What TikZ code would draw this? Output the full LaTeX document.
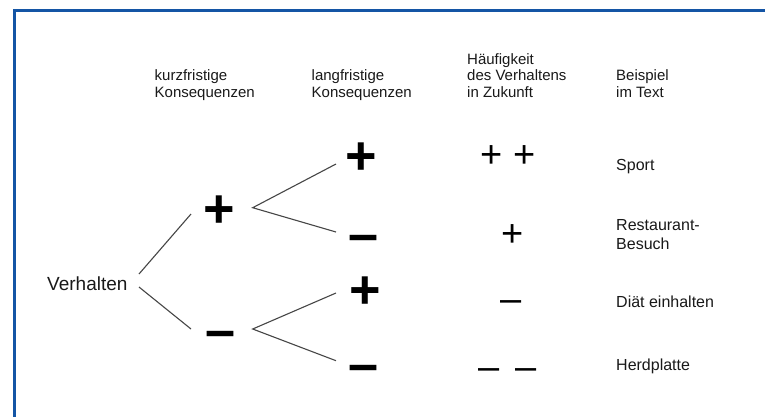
\documentclass[tikz,border=0pt]{standalone}
\usepackage{fontspec}
\setmainfont{Liberation Sans}
\definecolor{frameblue}{RGB}{20,85,165}
\definecolor{linegray}{RGB}{70,70,70}
\definecolor{txt}{RGB}{25,25,25}
\begin{document}
\begin{tikzpicture}[x=1pt,y=-1pt,
  hdr/.style={anchor=base west, inner sep=0pt, text=txt, align=left,
    font=\fontsize{15}{16.6}\selectfont},
  lbl/.style={anchor=base west, inner sep=0pt, text=txt, align=left,
    font=\fontsize{16}{18.3}\selectfont},
  bigsym/.style={anchor=base, inner sep=0pt, font=\fontsize{54}{54}\selectfont\bfseries},
  smallsym/.style={anchor=base, inner sep=0pt, font=\fontsize{38}{38}\selectfont},
  branch/.style={draw=linegray, line width=1.1pt}]
\useasboundingbox (0,0) rectangle (765,416);
\fill[white] (0,0) rectangle (765,416);
% frame
\draw[frameblue, line width=3pt, line join=miter] (14.3,418) -- (14.3,10.8) -- (767,10.8);

% headers (anchor at baseline of last line)
\node[hdr] (hk) at (154.5,97.3) {kurzfristige\\Konsequenzen};
\node[hdr] (hl) at (311.5,97.3) {langfristige\\Konsequenzen};
\node[hdr] (hh) at (467,97.3) {Häufigkeit\\des Verhaltens\\in Zukunft};
\node[hdr] (hb) at (616,97.3) {Beispiel\\im Text};

% root
\node[anchor=base west, inner sep=0pt, text=txt, font=\fontsize{19}{21}\selectfont] (verh) at (47,290.5) {Verhalten};

% short-term
\node[bigsym] (kp) at (219,227) {+};
\node[bigsym] (km) at (221,348) {–};
% long-term
\node[bigsym] (lpa) at (361.5,174.5) {+};
\node[bigsym] (lma) at (364,252) {–};
\node[bigsym] (lpb) at (365,308) {+};
\node[bigsym] (lmb) at (364,382) {–};

% frequency
\node[smallsym] (f1) at (508,167.4) {+ +};
\node[smallsym] (f2) at (513,246) {+};
\node[smallsym] (f3) at (511,311.5) {–};
\node[smallsym] (f4) at (507.5,379) {–\hspace{0.42em}–};

% examples
\node[lbl] (e1) at (616,170) {Sport};
\node[lbl] (e2) at (616,249) {Restaurant-\\Besuch};
\node[lbl] (e3) at (616,307.3) {Diät einhalten};
\node[lbl] (e4) at (616,370) {Herdplatte};

% connector end points
\coordinate (v1) at (139,274);
\coordinate (v2) at (139,287);
\coordinate (k1) at (191,214);
\coordinate (k2) at (191,329);
\coordinate (fa) at (252.7,207.7);
\coordinate (fb) at (252.7,329);
\coordinate (a1) at (336,164);
\coordinate (b1) at (336,232);
\coordinate (a2) at (336,293);
\coordinate (b2) at (336,360.7);

\draw[branch] (v1) -- (k1);
\draw[branch] (v2) -- (k2);
\draw[branch] (a1) -- (fa) -- (b1);
\draw[branch] (a2) -- (fb) -- (b2);
\end{tikzpicture}
\end{document}
